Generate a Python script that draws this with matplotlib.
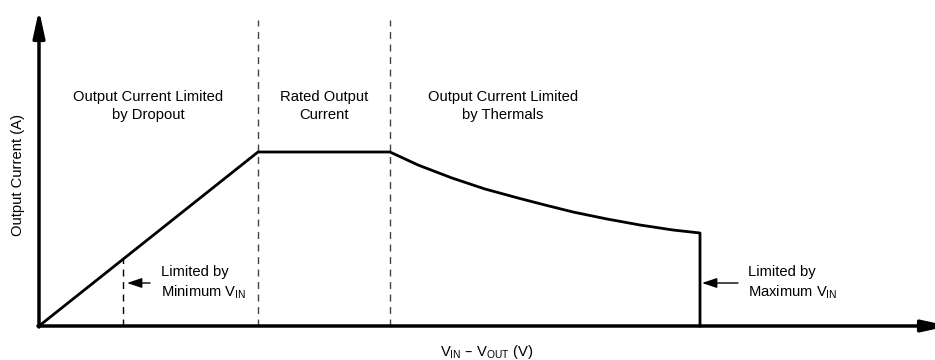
import matplotlib.pyplot as plt

plt.rcParams['font.family'] = ['Liberation Sans', 'DejaVu Sans']
plt.rcParams['mathtext.default'] = 'regular'

# operating envelope (arbitrary units, no ticks on the axes)
vdrop = [0, 219, 351, 379, 413, 446, 479, 506, 534, 568, 601, 634, 661, 661]
iout = [0, 174, 174, 161, 148, 137, 128, 121, 114, 107, 101, 96, 93, 0]

# boundaries between the regions
x_min_vin = 84
x_rated_start = 219
x_rated_end = 351
y_top = 306

region_labels = ['Output Current Limited\nby Dropout', 'Rated Output\nCurrent',
                 'Output Current Limited\nby Thermals']
region_x = [109, 285, 464]

fig = plt.figure(figsize=(9.35, 3.6), dpi=100)
ax = fig.add_axes([0, 0, 1, 1])
ax.set_xlim(-39, 896)
ax.set_ylim(-34, 326)
ax.axis('off')

# axes with arrow heads (x arrow runs off the right edge)
axis_arrow = dict(arrowstyle='-|>,head_length=1.6,head_width=0.35',
                  lw=2.5, color='black', shrinkA=0, shrinkB=0)
ax.annotate('', xy=(0, 316), xytext=(0, -1), arrowprops=axis_arrow,
            annotation_clip=False)
ax.annotate('', xy=(910, 0), xytext=(-1, 0), arrowprops=axis_arrow,
            annotation_clip=False)

# dashed region boundaries
ax.plot([x_min_vin, x_min_vin], [0, 67], ls=(0, (5, 4)), color='black', lw=1)
for xv in [x_rated_start, x_rated_end]:
    ax.plot([xv, xv], [0, y_top], ls=(0, (5, 4)), color='#444444', lw=1)

ax.plot(vdrop, iout, color='black', lw=2, solid_joinstyle='round', zorder=3)

for lab, xc in zip(region_labels, region_x):
    ax.text(xc, 220, lab, ha='center', va='center', fontsize=10.6, linespacing=1.3)

# side notes with arrows
arr = dict(arrowstyle='-|>,head_length=0.9,head_width=0.3', lw=1, color='black',
           shrinkA=0, shrinkB=0)
ax.annotate('', xy=(x_min_vin + 4, 43), xytext=(111, 43), arrowprops=arr)
ax.text(122, 43, 'Limited by\nMinimum V$_{IN}$', ha='left', va='center',
        fontsize=10.6, linespacing=1.3)
ax.annotate('', xy=(vdrop[-1] + 2, 43), xytext=(699, 43), arrowprops=arr)
ax.text(709, 43, 'Limited by\nMaximum V$_{IN}$', ha='left', va='center',
        fontsize=10.6, linespacing=1.3)

ax.text(-21, 151, 'Output Current (A)', rotation=90, ha='center', va='center',
        fontsize=10.6)
ax.text(448, -26, 'V$_{IN}$ – V$_{OUT}$ (V)', ha='center', va='center', fontsize=10.6)

fig.savefig('out.png', dpi=100)
